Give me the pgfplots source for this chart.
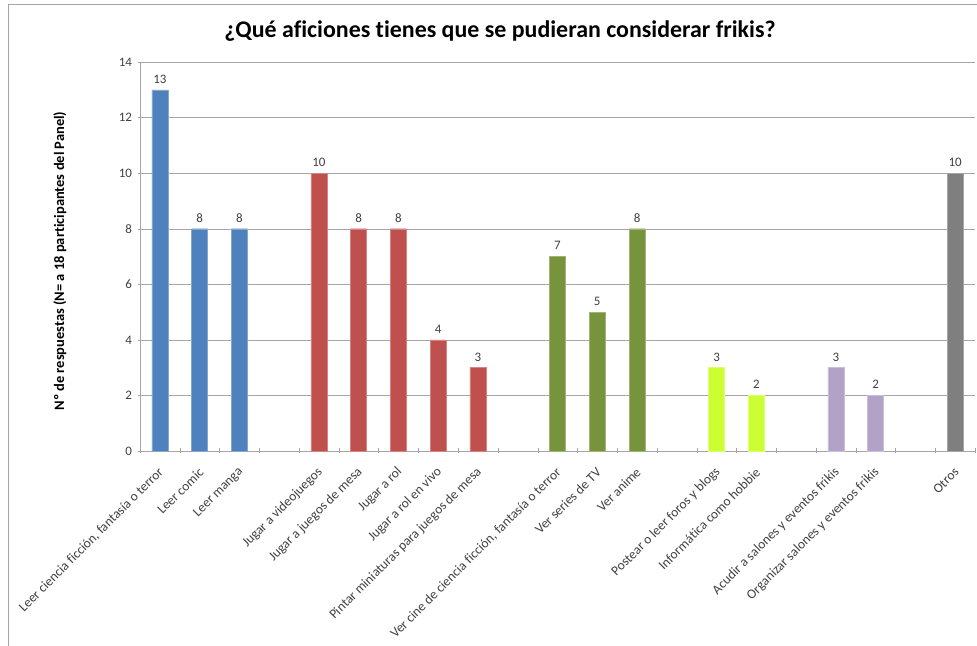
\documentclass[border=0pt]{standalone}
\usepackage{fontspec}
\setmainfont{Carlito}[Ligatures=NoCommon]
\usepackage{pgfplots}
\pgfplotsset{compat=1.18}
\definecolor{cblue}{HTML}{4F81BD}
\definecolor{cred}{HTML}{C0504D}
\definecolor{cgreen}{HTML}{77933C}
\definecolor{clime}{HTML}{CCFF33}
\definecolor{cpurple}{HTML}{B3A2C7}
\definecolor{cgrey}{HTML}{7F7F7F}
\definecolor{ctext}{HTML}{404040}
\definecolor{cgrid}{HTML}{A6A6A6}
\begin{document}
\begin{tikzpicture}[x=1bp,y=1bp]
\path[use as bounding box] (0,0) rectangle (977,646);
\draw[color=cgrid, line width=1bp] (8,-5) -- (8,641) -- (990,641);
\node[font=\bfseries\fontsize{24}{28}\selectfont] at (500,615) {¿Qué aficiones tienes que se pudieran considerar frikis?};
\node[rotate=90, font=\bfseries\fontsize{14.5}{17}\selectfont] at (60,385) {Nº de respuestas (N= a 18 participantes del Panel)};
\begin{axis}[
  at={(140bp,195bp)}, anchor=south west,
  scale only axis, width=835bp, height=389bp,
  ybar, bar width=16bp,
  xmin=-0.5, xmax=20.5, ymin=0, ymax=14,
  ytick={0,2,...,14},
  xtick={0,1,2,4,5,6,7,8,10,11,12,14,15,17,18,20},
  xticklabels={{Leer ciencia ficción, fantasía o terror},Leer comic,Leer manga,Jugar a videojuegos,Jugar a juegos de mesa,Jugar a rol,Jugar a rol en vivo,Pintar miniaturas para juegos de mesa,{Ver cine de ciencia ficción, fantasía o terror},Ver series de TV,Ver anime,Postear o leer foros y blogs,Informática como hobbie,Acudir a salones y eventos frikis,Organizar salones y eventos frikis,Otros},
  minor xtick={-0.5,0.5,...,20.5},
  major x tick style={draw=none},
  tick align=outside, major tick length=5bp, minor tick length=5bp,
  tick style={color=cgrid},
  axis lines=left, axis line style={-, color=cgrid},
  ymajorgrids, grid style={color=cgrid},
  /pgf/number format/assume math mode=true,
  tick label style={font=\fontsize{13}{15}\selectfont, text=ctext},
  yticklabel style={xshift=-2bp},
  xticklabel style={font=\fontsize{13.5}{15}\selectfont, xshift=3bp, yshift=-15bp, rotate=45, anchor=east, inner sep=2bp},
  nodes near coords,
  every node near coord/.append style={font=\fontsize{13}{15}\selectfont, text=ctext, yshift=3bp},
  clip=false,
]
\addplot[bar shift=0pt, fill=cblue, draw=cblue!70!white] coordinates {(0,13) (1,8) (2,8)};
\addplot[bar shift=0pt, fill=cred, draw=cred!70!white] coordinates {(4,10) (5,8) (6,8) (7,4) (8,3)};
\addplot[bar shift=0pt, fill=cgreen, draw=cgreen!70!white] coordinates {(10,7) (11,5) (12,8)};
\addplot[bar shift=0pt, fill=clime, draw=clime!70!white] coordinates {(14,3) (15,2)};
\addplot[bar shift=0pt, fill=cpurple, draw=cpurple!70!white] coordinates {(17,3) (18,2)};
\addplot[bar shift=0pt, fill=cgrey, draw=cgrey!70!white] coordinates {(20,10)};
\end{axis}
\end{tikzpicture}
\end{document}
